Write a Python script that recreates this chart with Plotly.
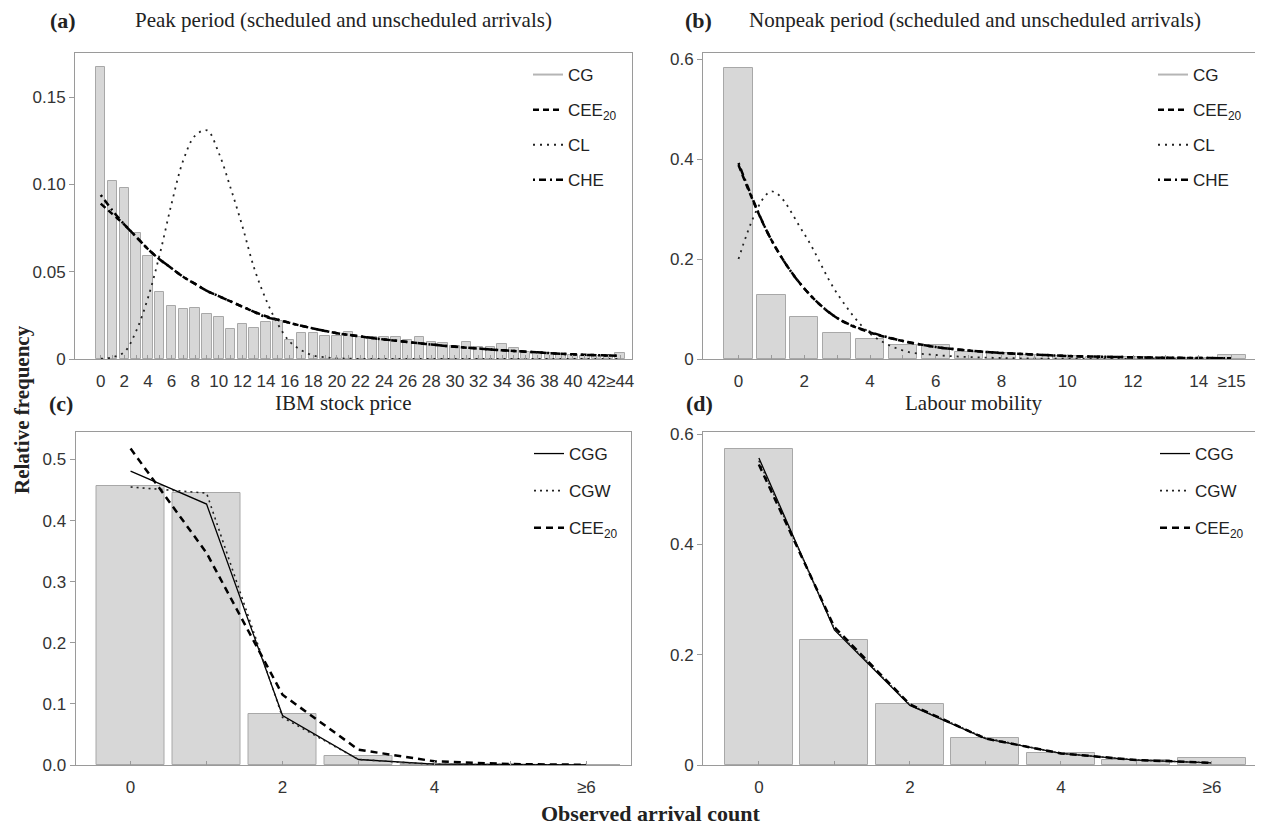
import plotly.graph_objects as go

# ---------------- data ----------------
# (a) Peak period
peak_x = list(range(45))
peak_labels = [str(i) for i in range(0, 44, 2)] + ["≥44"]
peak_label_pos = list(range(0, 44, 2)) + [44]
peak_cg = [0.167, 0.102, 0.098, 0.072, 0.059, 0.0385, 0.0305, 0.0287, 0.0295, 0.026,
           0.024, 0.017, 0.020, 0.018, 0.021, 0.022, 0.011, 0.0147, 0.0147, 0.0132,
           0.0132, 0.0156, 0.0128, 0.0128, 0.0128, 0.0128, 0.011, 0.0128, 0.0099, 0.009,
           0.0074, 0.0099, 0.0071, 0.0071, 0.0084, 0.0065, 0.0042, 0.0042, 0.0033, 0.003,
           0.0025, 0.002, 0.0018, 0.0015, 0.0036]
peak_cee = [0.089, 0.083, 0.077, 0.070, 0.063, 0.057, 0.052, 0.047, 0.043, 0.039,
            0.036, 0.033, 0.030, 0.027, 0.0245, 0.0225, 0.0207, 0.019, 0.0175, 0.0161,
            0.0148, 0.0138, 0.0129, 0.012, 0.0112, 0.0105, 0.0097, 0.009, 0.0083, 0.0076,
            0.0070, 0.0065, 0.0060, 0.0055, 0.0050, 0.0046, 0.0042, 0.0038, 0.0034, 0.0030,
            0.0027, 0.0024, 0.0022, 0.0020, 0.0018]
peak_cl = [0.0002, 0.001, 0.004, 0.016, 0.035, 0.060, 0.089, 0.114, 0.128, 0.131,
           0.118, 0.098, 0.076, 0.052, 0.034, 0.020, 0.010, 0.005, 0.002, 0.001,
           0.0004, 0.0002, 0.0001, 0.0001, 0.0, 0.0, 0.0, 0.0, 0.0, 0.0,
           0.0, 0.0, 0.0, 0.0, 0.0, 0.0, 0.0, 0.0, 0.0, 0.0,
           0.0, 0.0, 0.0, 0.0, 0.0]
peak_che = [0.094, 0.085, 0.077, 0.070, 0.063, 0.057, 0.052, 0.047, 0.043, 0.039,
            0.036, 0.033, 0.030, 0.027, 0.024, 0.0225, 0.0207, 0.019, 0.0175, 0.0161,
            0.0148, 0.0138, 0.0129, 0.012, 0.0112, 0.0105, 0.0097, 0.009, 0.0083, 0.0076,
            0.0071, 0.0065, 0.0060, 0.0055, 0.0050, 0.0046, 0.0042, 0.0038, 0.0034, 0.0030,
            0.0027, 0.0024, 0.0022, 0.0020, 0.0018]

# (b) Nonpeak period
nonpeak_x = list(range(16))
nonpeak_labels = ["0", "2", "4", "6", "8", "10", "12", "14", "≥15"]
nonpeak_label_pos = [0, 2, 4, 6, 8, 10, 12, 14, 15]
nonpeak_cg = [0.583, 0.129, 0.085, 0.052, 0.040, 0.029, 0.028, 0.015, 0.012, 0.009,
              0.007, 0.005, 0.004, 0.003, 0.002, 0.009]
nonpeak_cee = [0.388, 0.238, 0.141, 0.082, 0.053, 0.036, 0.024, 0.017, 0.012, 0.009,
               0.006, 0.0045, 0.0035, 0.0025, 0.002, 0.0015]
nonpeak_cl = [0.20, 0.335, 0.25, 0.131, 0.051, 0.017, 0.008, 0.004, 0.002, 0.001,
              0.0007, 0.0005, 0.0004, 0.0003, 0.0002, 0.0002]
nonpeak_che = [0.392, 0.238, 0.141, 0.082, 0.054, 0.036, 0.024, 0.017, 0.012, 0.009,
               0.006, 0.0045, 0.0035, 0.0025, 0.002, 0.0015]

# (c) IBM stock price
ibm_x = list(range(7))
ibm_labels = ["0", "2", "4", "≥6"]
ibm_label_pos = [0, 2, 4, 6]
ibm_obs = [0.456, 0.445, 0.084, 0.014, 0.002, 0.0005, 0.0003]
ibm_cgg = [0.481, 0.427, 0.081, 0.009, 0.0015, 0.0003, 0.0001]
ibm_cgw = [0.455, 0.445, 0.078, 0.009, 0.001, 0.0002, 0.0001]
ibm_cee = [0.518, 0.347, 0.115, 0.025, 0.006, 0.0015, 0.0004]

# (d) Labour mobility
lab_x = list(range(7))
lab_labels = ["0", "2", "4", "≥6"]
lab_label_pos = [0, 2, 4, 6]
lab_obs = [0.574, 0.226, 0.110, 0.049, 0.022, 0.0085, 0.012]
lab_cgg = [0.557, 0.245, 0.108, 0.048, 0.021, 0.009, 0.004]
lab_cgw = [0.552, 0.247, 0.109, 0.049, 0.021, 0.009, 0.004]
lab_cee = [0.545, 0.250, 0.110, 0.048, 0.021, 0.009, 0.004]

# ---------------- styling ----------------
W, H = 1263, 827
OFF = 8  # page body margin compensation
SANS = "Liberation Sans, Arial, sans-serif"
SERIF = "Liberation Serif, Times New Roman, serif"
BAR_FILL = "#d7d7d7"
BAR_LINE = "#a8a8a8"
FRAME = "#9a9a9a"


def PX(x):
    return (x - OFF) / W


def PY(y):
    return 1 - (y - OFF) / H


def px_dom(x0, x1):
    return [PX(x0), PX(x1)]


def py_dom(top, bottom):
    return [PY(bottom), PY(top)]


fig = go.Figure()


def add_panel(idx, x, bars, width, lines, legend_name, smooth):
    xa = "x" if idx == 1 else f"x{idx}"
    ya = "y" if idx == 1 else f"y{idx}"
    fig.add_trace(go.Bar(x=x, y=bars, width=width, marker=dict(color=BAR_FILL, line=dict(color=BAR_LINE, width=1)),
                         showlegend=False, xaxis=xa, yaxis=ya))
    for name, vals, color, dash, lw, legend_only in lines:
        if legend_only:
            fig.add_trace(go.Scatter(x=[None], y=[None], mode="lines", name=name,
                                     line=dict(color=color, width=lw, dash=dash),
                                     legend=legend_name, legendgroup=f"{legend_name}-{name}",
                                     xaxis=xa, yaxis=ya))
        else:
            fig.add_trace(go.Scatter(x=x, y=vals, mode="lines", name=name,
                                     line=dict(color=color, width=lw, dash=dash,
                                               shape="spline" if smooth else "linear"),
                                     legend=legend_name, legendgroup=f"{legend_name}-{name}",
                                     xaxis=xa, yaxis=ya))


CEE = "CEE<sub>20</sub>"
add_panel(1, peak_x, peak_cg, 0.8, [
    ("CG", None, "#b5b5b5", "solid", 2, True),
    (CEE, peak_cee, "black", "6px,4px", 2.5, False),
    ("CL", peak_cl, "#222", "2px,5px", 1.8, False),
    ("CHE", peak_che, "black", "2px,4px,7px,4px", 2.5, False),
], "legend", True)
add_panel(2, nonpeak_x, nonpeak_cg, 0.86, [
    ("CG", None, "#b5b5b5", "solid", 2, True),
    (CEE, nonpeak_cee, "black", "6px,4px", 2.5, False),
    ("CL", nonpeak_cl, "#222", "2px,5px", 1.8, False),
    ("CHE", nonpeak_che, "black", "2px,4px,7px,4px", 2.5, False),
], "legend2", True)
add_panel(3, ibm_x, ibm_obs, 0.9, [
    ("CGG", ibm_cgg, "black", "solid", 1.3, False),
    ("CGW", ibm_cgw, "#222", "2px,4px", 1.6, False),
    (CEE, ibm_cee, "black", "7px,5px", 2.5, False),
], "legend3", False)
add_panel(4, lab_x, lab_obs, 0.9, [
    ("CGG", lab_cgg, "black", "solid", 1.3, False),
    ("CGW", lab_cgw, "#222", "2px,4px", 1.6, False),
    (CEE, lab_cee, "black", "7px,5px", 2.5, False),
], "legend4", False)

tickfont = dict(family=SANS, size=17, color="#333")


def xaxis(dom, rng, pos, labels, anchor, nmax):
    return dict(domain=dom, range=rng, anchor=anchor, tickmode="array", tickvals=pos, ticktext=labels,
                ticks="inside", ticklen=4, tickcolor=FRAME, tickangle=0, tickfont=tickfont, automargin=False,
                ticklabelstandoff=7,
                showline=True, mirror=True, linecolor=FRAME, linewidth=1, showgrid=False, zeroline=False,
                minor=dict(tickmode="array", tickvals=list(range(nmax + 1)), ticks="inside", ticklen=4, tickcolor=FRAME))


def yaxis(dom, rng, vals, labels, anchor):
    return dict(domain=dom, range=rng, anchor=anchor, tickmode="array", tickvals=vals, ticktext=labels,
                ticks="outside", ticklen=5, tickcolor=FRAME, tickfont=tickfont, automargin=False,
                showline=True, mirror=True, linecolor=FRAME, linewidth=1, showgrid=False, zeroline=False)


top_y = py_dom(53, 359)
bot_y = py_dom(432, 765)

layout = dict(
    width=W, height=H, margin=dict(l=0, r=0, t=0, b=0, autoexpand=False),
    paper_bgcolor="white", plot_bgcolor="white", bargap=0, barmode="overlay",
    xaxis=xaxis(px_dom(75, 632), [-2.18, 45.0], peak_label_pos, peak_labels, "y", 44),
    yaxis=yaxis(top_y, [0, 0.1753], [0, 0.05, 0.10, 0.15], ["0", "0.05", "0.10", "0.15"], "x"),
    xaxis2=xaxis(px_dom(703, 1258), [-1.08, 15.8], nonpeak_label_pos, nonpeak_labels, "y2", 15),
    yaxis2=yaxis(top_y, [0, 0.612], [0, 0.2, 0.4, 0.6], ["0", "0.2", "0.4", "0.6"], "x2"),
    xaxis3=xaxis(px_dom(75.5, 630.5), [-0.725, 6.58], ibm_label_pos, ibm_labels, "y3", 6),
    yaxis3=yaxis(bot_y, [0, 0.545], [0, 0.1, 0.2, 0.3, 0.4, 0.5],
                 ["0.0", "0.1", "0.2", "0.3", "0.4", "0.5"], "x3"),
    xaxis4=xaxis(px_dom(703, 1258), [-0.74, 6.61], lab_label_pos, lab_labels, "y4", 6),
    yaxis4=yaxis(bot_y, [0, 0.604], [0, 0.2, 0.4, 0.6], ["0", "0.2", "0.4", "0.6"], "x4"),
)


def legend(x_paper, y_paper, gap):
    return dict(x=x_paper / W, y=1 - y_paper / H, xanchor="left", yanchor="top", bgcolor="rgba(0,0,0,0)",
                font=dict(family=SANS, size=17, color="#222"), tracegroupgap=gap, traceorder="grouped")


layout["legend"] = legend(520, 49, 10)
layout["legend2"] = legend(1145, 49, 10)
layout["legend3"] = legend(521, 428, 12)
layout["legend4"] = legend(1147, 428, 12)

ann = []


def text(x, y, s, size, bold=False, family=SERIF, angle=0):
    ann.append(dict(x=PX(x), y=PY(y), xref="paper", yref="paper", text=f"<b>{s}</b>" if bold else s,
                    showarrow=False, textangle=angle, xanchor="center", yanchor="middle",
                    font=dict(family=family, size=size, color="#222")))


text(63, 20, "(a)", 22, True)
text(343, 20, "Peak period (scheduled and unscheduled arrivals)", 21)
text(698, 20, "(b)", 22, True)
text(975, 20, "Nonpeak period (scheduled and unscheduled arrivals)", 21)
text(61, 403, "(c)", 22, True)
text(343, 403, "IBM stock price", 21)
text(699, 403, "(d)", 22, True)
text(974, 403, "Labour mobility", 21)
text(22, 410, "Relative frequency", 21, True, angle=-90)
text(650, 813, "Observed arrival count", 22, True)
layout["annotations"] = ann

fig.update_layout(**layout)
fig.write_html("out.html")
